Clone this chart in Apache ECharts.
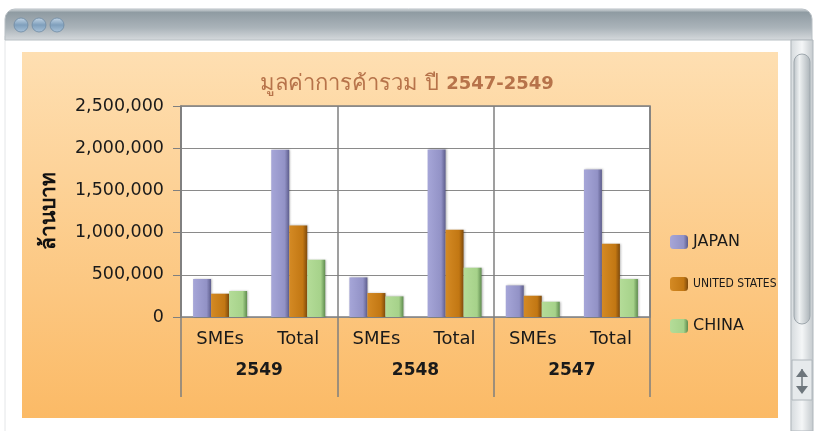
<!DOCTYPE html>
<html>
<head>
<meta charset="utf-8">
<script src="https://cdn.jsdelivr.net/npm/echarts@6/dist/echarts.min.js"></script>
<style>
html,body{margin:0;padding:0;background:#fff;}
#chart{width:814px;height:431px;}
</style>
</head>
<body>
<div id="chart"></div>
<script>
// ---- data ----
var years = ["2549", "2548", "2547"];
var subCategories = ["SMEs", "Total"];
var seriesNames = ["JAPAN", "UNITED STATES", "CHINA"];
var japan = [450000, 1982000, 469000, 1985000, 374000, 1749000];
var unitedStates = [276000, 1085000, 284000, 1034000, 252000, 868000];
var china = [308000, 679000, 244000, 584000, 181000, 450000];
var yTicks = [0, 500000, 1000000, 1500000, 2000000, 2500000];
var titleMain = "มูลค่าการค้ารวม ปี ";
var titleBold = "2547-2549";
var yName = "ล้านบาท";

// ---- build ----
var xCats = [];
years.forEach(function (y) { subCategories.forEach(function (s) { xCats.push(y + "|" + s); }); });

function grad(c1, c2, c3) {
  return new echarts.graphic.LinearGradient(0, 0, 1, 0, [
    { offset: 0, color: c1 }, { offset: 0.75, color: c2 }, { offset: 1, color: c3 }
  ]);
}
var colors = [
  grad('#a6a6d8', '#9292c6', '#5d5d8c'),
  grad('#d48a24', '#c27713', '#7e4a0c'),
  grad('#b4dc98', '#a6d28a', '#5f8c4f')
];
var flat = ['#9595c9', '#c47a16', '#a8d48c'];
var dataArr = [japan, unitedStates, china];

var FONT = "'DejaVu Sans', 'Noto Sans', sans-serif";
var btnFill = function () {
  return new echarts.graphic.LinearGradient(0, 0, 0, 1, [{ offset: 0, color: '#c6d8e8' }, { offset: 0.5, color: '#7f9fbc' }, { offset: 1, color: '#a9c3da' }]);
};

var chart = echarts.init(document.getElementById('chart'));
var option = {
  animation: false,
  backgroundColor: '#ffffff',
  graphic: [
    { type: 'rect', z: -10, shape: { x: 5, y: 36, width: 786, height: 400 }, style: { fill: '#ffffff', stroke: '#e4e6e8', lineWidth: 1 } },
    { type: 'rect', z: -9, shape: { x: 5, y: 9, width: 807, height: 31, r: [10, 10, 0, 0] },
      style: { fill: new echarts.graphic.LinearGradient(0, 0, 0, 1, [
        { offset: 0, color: '#dfe3e6' }, { offset: 0.12, color: '#8f9ba2' },
        { offset: 0.6, color: '#aab3b9' }, { offset: 1, color: '#d6dadd' }]), stroke: '#b8bfc4', lineWidth: 1 } },
    { type: 'circle', z: -8, shape: { cx: 21, cy: 25, r: 7 }, style: { fill: btnFill(), stroke: '#6f8aa3', lineWidth: 0.8 } },
    { type: 'circle', z: -8, shape: { cx: 39, cy: 25, r: 7 }, style: { fill: btnFill(), stroke: '#6f8aa3', lineWidth: 0.8 } },
    { type: 'circle', z: -8, shape: { cx: 57, cy: 25, r: 7 }, style: { fill: btnFill(), stroke: '#6f8aa3', lineWidth: 0.8 } },
    { type: 'rect', z: -9, shape: { x: 791, y: 40, width: 22, height: 391 },
      style: { fill: new echarts.graphic.LinearGradient(0, 0, 1, 0, [{ offset: 0, color: '#d5dadd' }, { offset: 0.5, color: '#f4f6f7' }, { offset: 1, color: '#c2c8cc' }]), stroke: '#b0b7bc', lineWidth: 1 } },
    { type: 'rect', z: -8, shape: { x: 794, y: 54, width: 16, height: 270, r: 8 },
      style: { fill: new echarts.graphic.LinearGradient(0, 0, 1, 0, [{ offset: 0, color: '#b9c0c5' }, { offset: 0.35, color: '#eef1f2' }, { offset: 1, color: '#aab2b7' }]), stroke: '#9ea7ad', lineWidth: 1 } },
    { type: 'rect', z: -8, shape: { x: 792, y: 360, width: 20, height: 40 },
      style: { fill: '#e6eaec', stroke: '#b0b7bc', lineWidth: 1 } },
    { type: 'line', z: -7, shape: { x1: 802, y1: 369, x2: 802, y2: 392 }, style: { stroke: '#6d767c', lineWidth: 1.5 } },
    { type: 'polygon', z: -7, shape: { points: [[796, 377], [802, 369], [808, 377]] }, style: { fill: '#6d767c' } },
    { type: 'polygon', z: -7, shape: { points: [[796, 386], [802, 394], [808, 386]] }, style: { fill: '#6d767c' } },
    { type: 'rect', z: -7, shape: { x: 22, y: 52, width: 756, height: 366 },
      style: { fill: new echarts.graphic.LinearGradient(0, 0, 0, 1, [{ offset: 0, color: '#fedfb2' }, { offset: 1, color: '#fbba66' }]) } },
    { type: 'text', z: 5, x: 50, y: 211, rotation: Math.PI / 2,
      style: { text: yName, font: "bold 21px " + FONT, fill: '#111', align: 'center', verticalAlign: 'middle' } }
  ],
  title: {
    text: '{n|' + titleMain + '}{b|' + titleBold + '}',
    left: 'center', top: 68,
    textStyle: {
      rich: {
        n: { fontSize: 22, fontWeight: 'normal', color: '#b7734a', fontFamily: FONT },
        b: { fontSize: 18, color: '#b7734a', fontWeight: 'bold', fontFamily: FONT }
      }
    }
  },
  legend: {
    orient: 'vertical', left: 665, top: 229,
    itemWidth: 18, itemHeight: 14, itemGap: 27,
    data: [
      { name: 'JAPAN', textStyle: { fontSize: 16, fontFamily: FONT, color: '#1a1a1a' } },
      { name: 'UNITED STATES', textStyle: { fontSize: 12, fontFamily: "'DejaVu Sans Condensed', 'Liberation Sans Narrow', sans-serif", color: '#1a1a1a' } },
      { name: 'CHINA', textStyle: { fontSize: 16, fontFamily: FONT, color: '#1a1a1a' } }
    ],
    textStyle: { lineHeight: 14 }
  },
  grid: {
    left: 181, right: 164, top: 106, bottom: 114,
    show: true, backgroundColor: '#ffffff', borderColor: '#7f7f7f', borderWidth: 1.5
  },
  xAxis: [
    {
      type: 'category', data: xCats, position: 'bottom',
      axisLine: { show: false }, axisTick: { show: false },
      axisLabel: { margin: 13, fontSize: 18, fontFamily: FONT, color: '#1a1a1a',
        formatter: function (v) { return v.split('|')[1]; } }
    },
    {
      type: 'category', data: years, position: 'bottom',
      axisLine: { show: false },
      axisTick: { show: true, length: 80, interval: 0, lineStyle: { color: '#7f7f7f', width: 1.5 } },
      splitLine: { show: true, interval: 0, lineStyle: { color: '#7f7f7f', width: 1.5 } },
      axisLabel: { margin: 45, fontSize: 17, fontWeight: 'bold', fontFamily: FONT, color: '#1a1a1a' }
    }
  ],
  yAxis: {
    type: 'value', min: yTicks[0], max: yTicks[yTicks.length - 1], interval: yTicks[1] - yTicks[0],
    axisLine: { show: true, lineStyle: { color: '#7f7f7f', width: 1.5 } },
    axisTick: { show: true, length: 8, lineStyle: { color: '#7f7f7f' } },
    splitLine: { show: true, lineStyle: { color: '#8a8a8a', width: 1 } },
    axisLabel: { margin: 17, fontSize: 17.5, fontFamily: FONT, color: '#1a1a1a',
      formatter: function (v) { return v.toLocaleString('en-US'); } }
  },
  series: seriesNames.map(function (name, i) {
    return {
      name: name, type: 'bar', xAxisIndex: 0, barWidth: 18, barGap: '0%',
      data: dataArr[i],
      itemStyle: { color: colors[i], shadowColor: 'rgba(0,0,0,0.25)', shadowBlur: 2, shadowOffsetX: 1 }
    };
  }),
  color: flat
};
chart.setOption(option);
</script>
</body>
</html>
